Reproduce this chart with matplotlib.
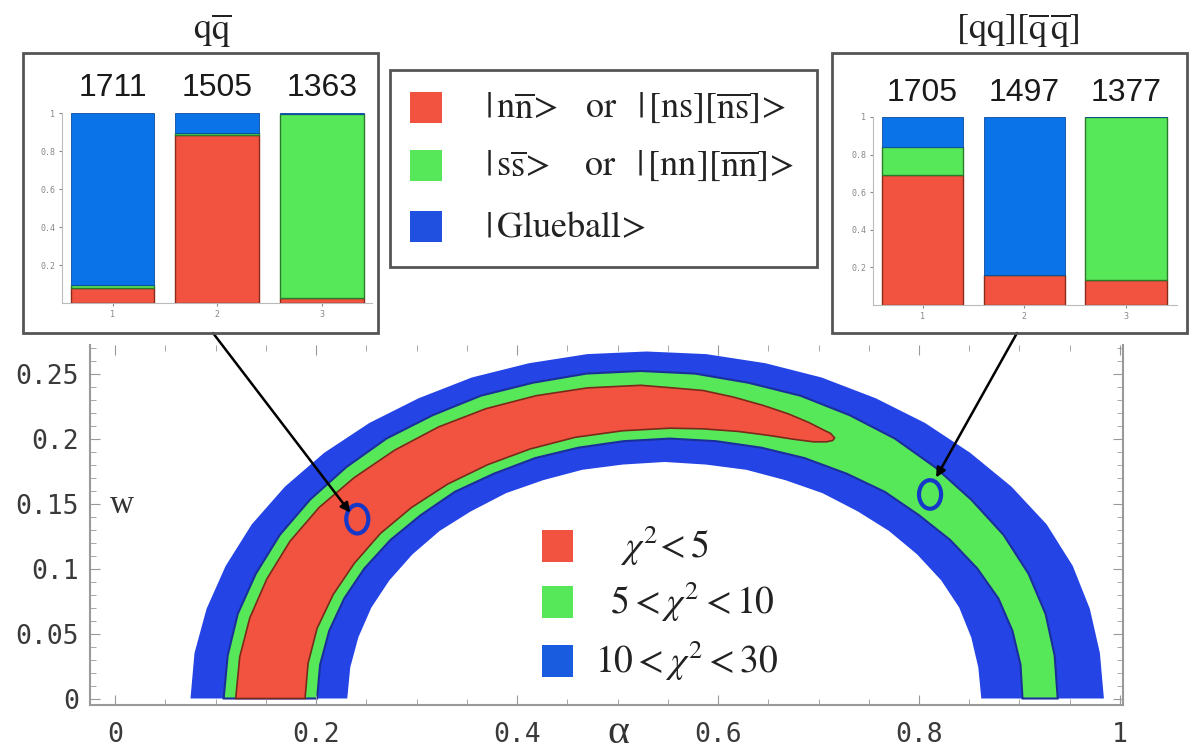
import numpy as np
import matplotlib.pyplot as plt
from matplotlib.patches import Rectangle, Ellipse
from matplotlib.ticker import AutoMinorLocator

plt.rcParams['mathtext.fontset'] = 'stix'

# chi^2 contour boundaries in the (alpha, w) plane, traced left foot -> right foot
# outer edge of the chi^2 < 30 band
outer_a = [0.075, 0.079, 0.091, 0.110, 0.136, 0.169, 0.208, 0.253, 0.302, 0.355, 0.412, 0.470, 0.529,
           0.588, 0.647, 0.703, 0.757, 0.806, 0.851, 0.892, 0.927, 0.953, 0.970, 0.980, 0.984]
outer_w = [0.000, 0.035, 0.069, 0.102, 0.134, 0.163, 0.189, 0.212, 0.231, 0.247, 0.258, 0.265, 0.267,
           0.265, 0.258, 0.247, 0.231, 0.212, 0.189, 0.163, 0.134, 0.102, 0.069, 0.035, 0.000]
# outer edge of the chi^2 < 10 band
green_out_a = [0.108, 0.112, 0.122, 0.140, 0.164, 0.194, 0.230, 0.270, 0.316, 0.364, 0.416, 0.469, 0.523,
               0.577, 0.630, 0.682, 0.731, 0.776, 0.816, 0.852, 0.884, 0.909, 0.926, 0.935, 0.938]
green_out_w = [0.000, 0.033, 0.065, 0.096, 0.126, 0.153, 0.178, 0.200, 0.218, 0.233, 0.243, 0.250, 0.252,
               0.250, 0.243, 0.233, 0.218, 0.200, 0.178, 0.153, 0.126, 0.096, 0.065, 0.033, 0.000]
# inner edge of the chi^2 < 10 band
green_in_a = [0.201, 0.204, 0.213, 0.228, 0.248, 0.274, 0.304, 0.338, 0.377, 0.418, 0.461, 0.506, 0.552,
              0.598, 0.643, 0.686, 0.728, 0.766, 0.800, 0.831, 0.858, 0.879, 0.893, 0.901, 0.903]
green_in_w = [0.000, 0.026, 0.052, 0.077, 0.100, 0.122, 0.141, 0.159, 0.173, 0.185, 0.193, 0.198, 0.200,
              0.198, 0.193, 0.185, 0.173, 0.159, 0.141, 0.122, 0.100, 0.077, 0.052, 0.026, 0.000]
# inner edge of the chi^2 < 30 band
inner_a = [0.231, 0.234, 0.242, 0.255, 0.273, 0.296, 0.323, 0.354, 0.389, 0.426, 0.465, 0.505, 0.547,
           0.588, 0.628, 0.667, 0.704, 0.739, 0.770, 0.798, 0.822, 0.840, 0.852, 0.859, 0.862]
inner_w = [0.000, 0.024, 0.047, 0.070, 0.091, 0.111, 0.129, 0.144, 0.158, 0.168, 0.176, 0.180, 0.182,
           0.180, 0.176, 0.168, 0.158, 0.144, 0.129, 0.111, 0.091, 0.070, 0.047, 0.024, 0.000]
# chi^2 < 5 island: upper edge to the tip, then lower edge back
red_up_a = [0.120, 0.124, 0.134, 0.151, 0.174, 0.203, 0.238, 0.278, 0.322, 0.369, 0.419, 0.470, 0.523,
            0.555, 0.585, 0.615, 0.645, 0.670, 0.690, 0.704, 0.712, 0.716]
red_up_w = [0.000, 0.032, 0.062, 0.092, 0.121, 0.147, 0.170, 0.191, 0.209, 0.223, 0.233, 0.239, 0.241,
            0.239, 0.237, 0.232, 0.2255, 0.219, 0.2125, 0.207, 0.204, 0.2005]
red_lo_a = [0.189, 0.192, 0.201, 0.217, 0.238, 0.264, 0.295, 0.331, 0.371, 0.413, 0.458, 0.505, 0.552,
            0.585, 0.620, 0.650, 0.675, 0.695, 0.708, 0.714, 0.716]
red_lo_w = [0.000, 0.027, 0.054, 0.080, 0.104, 0.127, 0.147, 0.165, 0.180, 0.192, 0.201, 0.206, 0.208,
            0.2075, 0.2055, 0.2025, 0.1995, 0.1975, 0.1975, 0.1985, 0.2005]

# selected points and where their arrows land
pt_qq = (0.241, 0.138)
pt_tetra = (0.811, 0.157)
tip_qq = (0.234, 0.143)
tip_tetra = (0.817, 0.170)

# mixing fractions for the three states
states = [1, 2, 3]
qq_masses = ['1711', '1505', '1363']
qq_red = [0.080, 0.885, 0.025]
qq_green = [0.015, 0.010, 0.970]
qq_blue = [0.905, 0.105, 0.005]
tq_masses = ['1705', '1497', '1377']
tq_red = [0.690, 0.160, 0.133]
tq_green = [0.150, 0.000, 0.867]
tq_blue = [0.160, 0.840, 0.000]

RED = '#f25340'
GREEN = '#57e85a'
BLUE = '#2444e6'
BAR_BLUE = '#0b73e8'
RING = '#1538c8'

W, H = 1190, 752
def box(x0, y0, x1, y1):
    return [x0 / W, 1 - y1 / H, (x1 - x0) / W, (y1 - y0) / H]

fig = plt.figure(figsize=(W / 100, H / 100), dpi=100)

# main contour panel
ax = fig.add_axes(box(90, 345, 1123, 705))
ax.fill(np.r_[outer_a, inner_a[::-1]], np.r_[outer_w, inner_w[::-1]], color=BLUE, lw=0)
ax.fill(np.r_[green_out_a, green_in_a[::-1]], np.r_[green_out_w, green_in_w[::-1]],
        fc=GREEN, ec='#1b2f9a', lw=1.5)
ax.fill(np.r_[red_up_a, red_lo_a[::-1]], np.r_[red_up_w, red_lo_w[::-1]],
        fc=RED, ec='#7a2a1a', lw=1.2)

for p in (pt_qq, pt_tetra):
    ax.add_patch(Ellipse(p, 0.022, 0.022, fill=False, ec=RING, lw=3))

ax.set_xlim(-0.025, 1.003)
ax.set_ylim(-0.005, 0.272)
ax.set_xticks([0, 0.2, 0.4, 0.6, 0.8, 1])
ax.set_xticklabels(['0', '0.2', '0.4', '0.6', '0.8', '1'])
ax.set_yticks([0, 0.05, 0.1, 0.15, 0.2, 0.25])
ax.set_yticklabels(['0', '0.05', '0.1', '0.15', '0.2', '0.25'])
ax.xaxis.set_minor_locator(AutoMinorLocator(4))
ax.yaxis.set_minor_locator(AutoMinorLocator(5))
ax.tick_params(which='both', direction='in', color='#999999', top=True, right=True)
ax.tick_params(which='major', length=7)
ax.tick_params(which='minor', length=4)
ax.tick_params(axis='x', pad=12)
ax.tick_params(axis='y', pad=8)
for lab in ax.get_xticklabels() + ax.get_yticklabels():
    lab.set_family('DejaVu Sans Mono')
    lab.set_fontsize(19)
    lab.set_color('#3a3a3a')
for s in ('left', 'bottom', 'right'):
    ax.spines[s].set_color('#999999')
    ax.spines[s].set_linewidth(1.5)
ax.spines['top'].set_visible(False)

fig.text(122 / W, 1 - 505 / H, 'w', family='Liberation Serif', fontsize=24,
         ha='center', va='center', color='#333333')
fig.text(618 / W, 1 - 733 / H, 'α', family='Liberation Serif', fontsize=30,
         ha='center', va='center', color='#333333')

# chi^2 legend
chi_labels = [r'$\chi^2\!<5$', r'$5<\chi^2<10$', r'$10<\chi^2<30$']
chi_colors = [RED, GREEN, '#1a5ce0']
chi_rows = [546, 602, 661]
chi_x = [620, 610, 595]
for lab, c, yc, xt in zip(chi_labels, chi_colors, chi_rows, chi_x):
    fig.add_artist(Rectangle((542 / W, 1 - (yc + 16) / H), 31 / W, 32 / H,
                             transform=fig.transFigure, fc=c, ec='none'))
    fig.text(xt / W, 1 - yc / H, lab, fontsize=27, ha='left', va='center', color='#222222')

# state legend
fig.add_artist(Rectangle((390 / W, 1 - 267 / H), 427 / W, 197 / H, transform=fig.transFigure,
                         fill=False, ec='#555555', lw=2))
state_labels = [r'$|\,\mathrm{n\overline{n}}\!>\;\;\;\mathrm{or}\;\;\;|\,[\mathrm{ns}][\overline{\mathrm{ns}}]\!>$',
                r'$|\,\mathrm{s\overline{s}}\!>\;\;\;\;\mathrm{or}\;\;\;|\,[\mathrm{nn}][\overline{\mathrm{nn}}]\!>$',
                r'$|\,\mathrm{Glueball}\!>$']
state_colors = [RED, GREEN, '#2050e0']
state_rows = [108, 166, 227]
for lab, c, yc in zip(state_labels, state_colors, state_rows):
    fig.add_artist(Rectangle((410 / W, 1 - (yc + 15) / H), 32 / W, 31 / H,
                             transform=fig.transFigure, fc=c, ec='none'))
    fig.text(485 / W, 1 - yc / H, lab, fontsize=26, ha='left', va='center', color='#222222')


def inset(frame, axbox, xlim, title, title_x, masses, red, green, blue):
    x0, y0, x1, y1 = frame
    fig.add_artist(Rectangle((x0 / W, 1 - y1 / H), (x1 - x0) / W, (y1 - y0) / H,
                             transform=fig.transFigure, fill=False, ec='#555555', lw=2))
    fig.text(title_x / W, 1 - 31 / H, title, fontsize=26, ha='center', va='center', color='#222222')
    iax = fig.add_axes(axbox)
    red, green, blue = map(np.array, (red, green, blue))
    iax.bar(states, red, width=0.8, fc=RED, ec='#8a2a1a', lw=1)
    iax.bar(states, green, bottom=red, width=0.8, fc=GREEN, ec='#2a7a2a', lw=1)
    iax.bar(states, blue, bottom=red + green, width=0.8, fc=BAR_BLUE, ec='#0a4aa0', lw=0.6)
    for xi, m in zip(states, masses):
        iax.text(xi, 1.13, m, family='Liberation Sans', fontsize=23, ha='center', va='center',
                 color='#1a1a1a', clip_on=False)
    iax.set_xlim(*xlim)
    iax.set_ylim(0, 1)
    iax.set_xticks(states)
    iax.set_yticks([0.2, 0.4, 0.6, 0.8, 1])
    iax.set_yticklabels(['0.2', '0.4', '0.6', '0.8', '1'])
    iax.tick_params(labelsize=6, colors='#888888', length=2, pad=3)
    for lab in iax.get_xticklabels() + iax.get_yticklabels():
        lab.set_family('DejaVu Sans Mono')
    for s in ('top', 'right'):
        iax.spines[s].set_visible(False)
    for s in ('left', 'bottom'):
        iax.spines[s].set_color('#bbbbbb')


inset((23, 53, 378, 333), box(62, 113, 372, 303), (0.517, 3.48),
      r'$\mathrm{q}\overline{\mathrm{q}}$', 212, qq_masses, qq_red, qq_green, qq_blue)
inset((832, 53, 1187, 333), box(873, 117, 1177, 305), (0.513, 3.50),
      r'$[\mathrm{qq}][\overline{\mathrm{q}}\,\overline{\mathrm{q}}]$', 1018,
      tq_masses, tq_red, tq_green, tq_blue)

# arrows from the insets down to the chosen points
for tip, start in ((tip_qq, (213, 333)), (tip_tetra, (1017, 333))):
    ax.annotate('', xy=tip, xycoords='data', xytext=(start[0] / W, 1 - start[1] / H),
                textcoords='figure fraction', annotation_clip=False,
                arrowprops=dict(arrowstyle='-|>', color='black', lw=1.8, mutation_scale=14,
                                shrinkA=0, shrinkB=0))

fig.savefig('out.png', dpi=100)
